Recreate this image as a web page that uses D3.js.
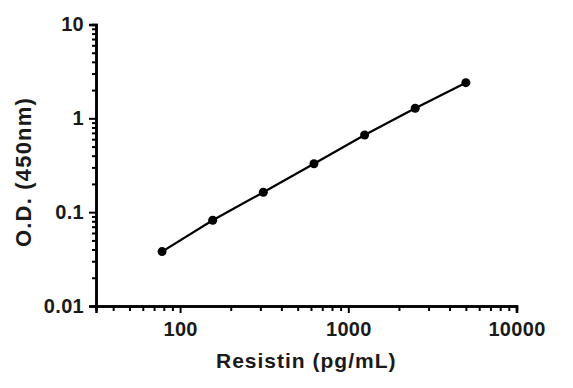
<!DOCTYPE html>
<html>
<head>
<meta charset="utf-8">
<script src="https://cdn.jsdelivr.net/npm/d3@7"></script>
<style>
  body { margin: 0; background: #fff; }
  text { font-family: "Liberation Sans", Arial, sans-serif; fill: #1a1a1a; }
</style>
</head>
<body>
<div id="canvas"></div>
<script>
const concentrations = [78.125, 156.25, 312.5, 625, 1250, 2500, 5000];
const odValues = [0.038, 0.082, 0.163, 0.328, 0.665, 1.28, 2.4];

const xTickValues = [100, 1000, 10000];
const xTickLabels = ["100", "1000", "10000"];
const yTickValues = [0.01, 0.1, 1, 10];
const yTickLabels = ["0.01", "0.1", "1", "10"];

const xTitle = "Resistin (pg/mL)";
const yTitle = "O.D. (450nm)";

const width = 573;
const height = 388;

const svg = d3.select("#canvas").append("svg")
  .attr("width", width)
  .attr("height", height);

// log scales, x axis starts at 10^1.5
const x = d3.scaleLog().domain([Math.pow(10, 1.5), 10000]).range([96, 516.5]);
const y = d3.scaleLog().domain([0.01, 10]).range([306, 24.5]);

// minor ticks between decades
const minorX = [];
[10, 100, 1000].forEach((d) => {
  for (let k = 2; k <= 9; k++) {
    const v = d * k;
    if (v >= x.domain()[0] && v <= 10000) minorX.push(v);
  }
});
const minorY = [];
[0.01, 0.1, 1].forEach((d) => {
  for (let k = 2; k <= 9; k++) minorY.push(d * k);
});

const axisStroke = 2.5;

// x axis
const gx = svg.append("g").attr("transform", `translate(0,306)`);
gx.call(d3.axisBottom(x).tickValues(minorX).tickSize(5).tickFormat(""));
gx.append("g").call(
  d3.axisBottom(x).tickValues(xTickValues).tickSize(7).tickPadding(9)
    .tickFormat((d, i) => xTickLabels[i])
);
gx.selectAll("path.domain").attr("stroke-width", axisStroke).attr("stroke", "#000");
gx.selectAll(".tick line").attr("stroke-width", 2).attr("stroke", "#000");
gx.selectAll(".tick text")
  .style("font-size", "20px")
  .style("font-weight", "bold")
  .style("letter-spacing", "0.3px");

// y axis
const gy = svg.append("g").attr("transform", `translate(96,0)`);
gy.call(d3.axisLeft(y).tickValues(minorY).tickSize(4).tickFormat(""));
gy.append("g").call(
  d3.axisLeft(y).tickValues(yTickValues).tickSize(7).tickPadding(5)
    .tickFormat((d, i) => yTickLabels[i])
);
gy.selectAll("path.domain").attr("stroke-width", axisStroke).attr("stroke", "#000");
gy.selectAll(".tick line").attr("stroke-width", 2).attr("stroke", "#000");
gy.selectAll(".tick text")
  .style("font-size", "20px")
  .style("font-weight", "bold")
  .style("letter-spacing", "0.3px");

// curve
const data = concentrations.map((c, i) => ({ c: c, od: odValues[i] }));
const line = d3.line().x((d) => x(d.c)).y((d) => y(d.od));

svg.append("path")
  .datum(data)
  .attr("d", line)
  .attr("fill", "none")
  .attr("stroke", "#000")
  .attr("stroke-width", 2.2);

svg.selectAll("circle.pt")
  .data(data)
  .enter()
  .append("circle")
  .attr("class", "pt")
  .attr("cx", (d) => x(d.c))
  .attr("cy", (d) => y(d.od))
  .attr("r", 4.5)
  .attr("fill", "#000");

// axis titles
svg.append("text")
  .attr("x", (x.range()[0] + x.range()[1]) / 2)
  .attr("y", 368)
  .attr("text-anchor", "middle")
  .style("font-size", "21px")
  .style("font-weight", "bold")
  .style("letter-spacing", "1px")
  .text(xTitle);

svg.append("text")
  .attr("transform", "translate(31,172) rotate(-90)")
  .attr("text-anchor", "middle")
  .style("font-size", "22px")
  .style("font-weight", "bold")
  .style("letter-spacing", "1.2px")
  .text(yTitle);
</script>
</body>
</html>
